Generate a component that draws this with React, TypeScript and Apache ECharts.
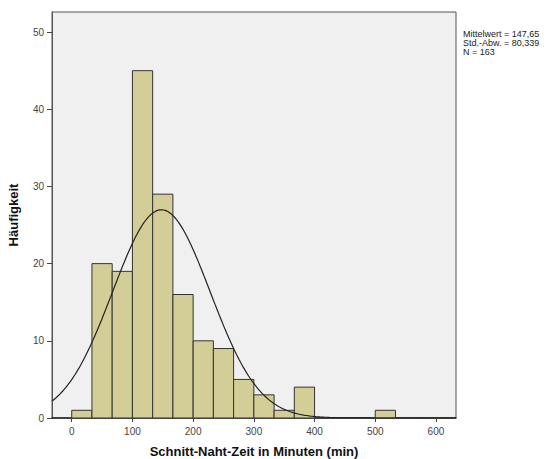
import React, { useEffect, useRef } from "react";
import * as echarts from "echarts";

const binStarts = [0, 33.33, 66.67, 100, 133.33, 166.67, 200, 233.33, 266.67, 300, 333.33, 366.67, 400, 433.33, 466.67, 500];
const binWidth = 33.33;
const counts = [1, 20, 19, 45, 29, 16, 10, 9, 5, 3, 1, 4, 0, 0, 0, 1];
const xTicks = [0, 100, 200, 300, 400, 500, 600];
const yTicks = [0, 10, 20, 30, 40, 50];
const mean = 147.65;
const sd = 80.339;
const n = 163;
const statsLines = ["Mittelwert = 147,65", "Std.-Abw. = 80,339", "N = 163"];
const xMin = -32.5;
const xMax = 633;
const yMax = 52.6;

function normalCurve(): number[][] {
  const pts: number[][] = [];
  const steps = 300;
  for (let i = 0; i <= steps; i++) {
    const x = xMin + ((xMax - xMin) * i) / steps;
    const z = (x - mean) / sd;
    const y = (n * binWidth) / (sd * Math.sqrt(2 * Math.PI)) * Math.exp(-0.5 * z * z);
    pts.push([x, y]);
  }
  return pts;
}

export default function App() {
  const ref = useRef<HTMLDivElement>(null);
  useEffect(() => {
    document.body.style.margin = "0";
    const chart = echarts.init(ref.current!, null, { renderer: "svg" });
    const barData = binStarts.map((s, i) => [s, s + binWidth, counts[i]]).filter((d) => d[2] > 0);
    const font = "Liberation Sans, Arial, sans-serif";
    chart.setOption({
      animation: false,
      backgroundColor: "#ffffff",
      grid: {
        left: 52,
        top: 12,
        right: 99,
        bottom: 41,
        containLabel: false,
        outerBoundsMode: "none",
        show: true,
        backgroundColor: "#f0f0f0",
        borderColor: "#555555",
        borderWidth: 1,
      },
      xAxis: {
        type: "value",
        min: xMin,
        max: xMax,
        name: "Schnitt-Naht-Zeit in Minuten (min)",
        nameLocation: "middle",
        nameGap: 27,
        nameTextStyle: { fontFamily: font, fontWeight: "bold", fontSize: 13, color: "#111" },
        axisLine: { show: true, onZero: false, lineStyle: { color: "#222", width: 1.5 } },
        axisTick: { show: true, length: 4, customValues: xTicks, lineStyle: { color: "#444" } },
        axisLabel: { customValues: xTicks, fontFamily: font, fontSize: 10, color: "#444", margin: 8 },
        splitLine: { show: false },
      },
      yAxis: {
        type: "value",
        min: 0,
        max: yMax,
        name: "Häufigkeit",
        nameLocation: "middle",
        nameGap: 32,
        nameRotate: 90,
        nameTextStyle: { fontFamily: font, fontWeight: "bold", fontSize: 13, color: "#111" },
        axisLine: { show: true, onZero: false, lineStyle: { color: "#555", width: 1 } },
        axisTick: { show: true, length: 5, customValues: yTicks, lineStyle: { color: "#444" } },
        axisLabel: { customValues: yTicks, fontFamily: font, fontSize: 10, color: "#444", margin: 8 },
        splitLine: { show: false },
      },
      series: [
        {
          type: "custom",
          data: barData,
          clip: true,
          renderItem: (params: any, api: any) => {
            const p0 = api.coord([api.value(0), api.value(2)]);
            const p1 = api.coord([api.value(1), 0]);
            return {
              type: "rect",
              shape: { x: p0[0], y: p0[1], width: p1[0] - p0[0], height: p1[1] - p0[1] },
              style: { fill: "#d3ce97", stroke: "#333333", lineWidth: 1 },
            };
          },
          encode: { x: [0, 1], y: 2 },
          z: 2,
        },
        {
          type: "line",
          data: normalCurve(),
          showSymbol: false,
          smooth: false,
          clip: true,
          lineStyle: { color: "#222222", width: 1.2 },
          z: 3,
        },
      ],
      graphic: statsLines.map((t, i) => ({
        type: "text",
        left: 463,
        top: 29 + i * 9,
        style: { text: t, fontFamily: font, fontSize: 9, fill: "#222" },
      })),
    });
    return () => chart.dispose();
  }, []);
  return <div ref={ref} style={{ width: 555, height: 459 }} />;
}
